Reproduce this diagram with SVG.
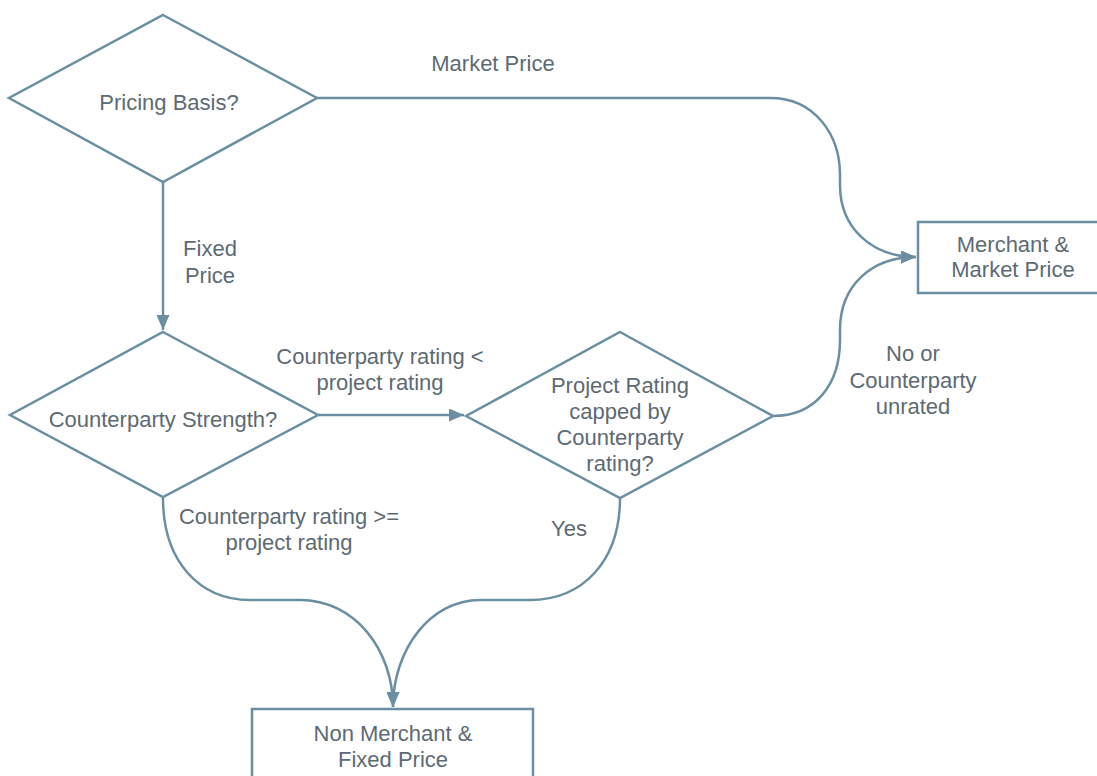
<svg xmlns="http://www.w3.org/2000/svg" width="1097" height="776" viewBox="0 0 1097 776">
  <style>
    .shape { fill: #ffffff; stroke: #6b8fa2; stroke-width: 2.5; }
    .edge { fill: none; stroke: #6b8fa2; stroke-width: 2.5; }
    text { font-family: "Liberation Sans", Arial, sans-serif; font-size: 22px; fill: #5d6a73; text-anchor: middle; }
  </style>
  <defs>
    <marker id="arrow" viewBox="0 0 15 13" refX="15" refY="6.5" markerWidth="15" markerHeight="13" markerUnits="userSpaceOnUse" orient="auto">
      <path d="M0,0 L15,6.5 L0,13 Z" fill="#6b8fa2"/>
    </marker>
  </defs>

  <rect width="1097" height="776" fill="#ffffff"/>

  <!-- connectors -->
  <g id="connectors">
    <path class="edge" d="M317,98 H770 C815,98 840,135 840,175 V185 C840,228 872,257 916,257" marker-end="url(#arrow)"/>
    <path class="edge" d="M163,182 V330" marker-end="url(#arrow)"/>
    <path class="edge" d="M318,415 H464" marker-end="url(#arrow)"/>
    <path class="edge" d="M773,416 C815,416 840,385 840,340 V330 C840,285 872,257 916,257" marker-end="url(#arrow)"/>
    <path class="edge" d="M163,498 C163,562 200,600 250,600 H300 C355,600 393,650 393,707" marker-end="url(#arrow)"/>
    <path class="edge" d="M620,498 C620,562 582,600 530,600 H480 C430,600 393,650 393,707" marker-end="url(#arrow)"/>
    <text x="493" y="71">Market Price</text>
    <text x="210" y="256">Fixed</text>
    <text x="210" y="283">Price</text>
    <text x="380" y="364">Counterparty rating &lt;</text>
    <text x="380" y="390">project rating</text>
    <text x="913" y="361">No or</text>
    <text x="913" y="388">Counterparty</text>
    <text x="913" y="414">unrated</text>
    <text x="289" y="524">Counterparty rating &gt;=</text>
    <text x="289" y="550">project rating</text>
    <text x="569" y="536">Yes</text>
  </g>

  <!-- nodes -->
  <g id="pricing-basis">
    <polygon class="shape" points="163,15 317,98 163,182 9,98"/>
    <text x="169" y="110">Pricing Basis?</text>
  </g>
  <g id="counterparty-strength">
    <polygon class="shape" points="163,332 318,415 163,497 10,415"/>
    <text x="163" y="427">Counterparty Strength?</text>
  </g>
  <g id="project-rating-capped">
    <polygon class="shape" points="620,332 773,416 620,498 466,416"/>
    <text x="620" y="393">Project Rating</text>
    <text x="620" y="419">capped by</text>
    <text x="620" y="445">Counterparty</text>
    <text x="620" y="471">rating?</text>
  </g>
  <g id="merchant-market-price">
    <rect class="shape" x="918" y="222" width="190" height="71"/>
    <text x="1013" y="252">Merchant &amp;</text>
    <text x="1013" y="277">Market Price</text>
  </g>
  <g id="non-merchant-fixed-price">
    <rect class="shape" x="252" y="709" width="281" height="80"/>
    <text x="393" y="741">Non Merchant &amp;</text>
    <text x="393" y="767">Fixed Price</text>
  </g>
</svg>
